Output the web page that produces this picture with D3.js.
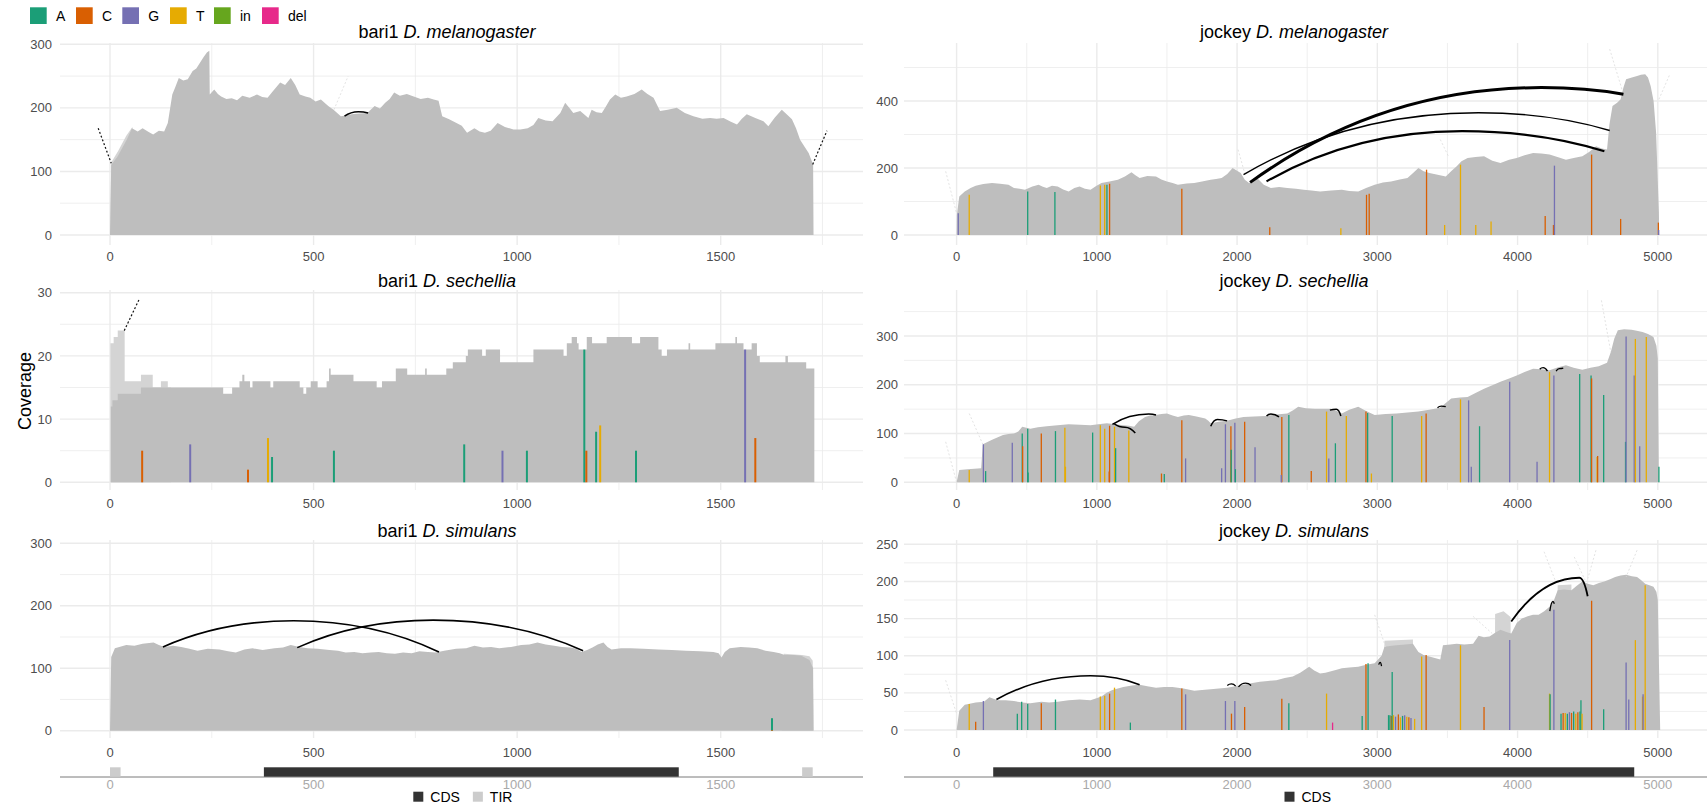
<!DOCTYPE html>
<html><head><meta charset="utf-8">
<script src="https://cdn.jsdelivr.net/npm/d3@7"></script>
<style>
body{margin:0;background:#fff;}
svg text{font-family:"Liberation Sans",Arial,Helvetica,sans-serif;}
</style></head><body>
<script>
// ---------- data ----------
const baseCodes = ["A", "C", "G", "T", "in", "del"];
const baseColors = ["#1b9e77", "#d95f02", "#7570b3", "#e6ab02", "#66a61e", "#e7298a"];

const bari1Ticks = [0, 500, 1000, 1500];
const jockeyTicks = [0, 1000, 2000, 3000, 4000, 5000];

// coverage profiles: [position, depth]
const bari1MelCoverage = [[0,0],[1,26],[3,110],[19,124],[41,150],[54,168],[68,163],[80,168],[95,162],[106,158],[120,164],[133,163],[142,176],[153,221],[160,232],[169,247],[180,243],[191,245],[203,258],[212,262],[221,271],[230,280],[238,287],[244,290],[245,221],[256,229],[265,222],[273,218],[286,214],[299,215],[312,212],[325,219],[343,216],[361,221],[374,217],[387,216],[400,226],[418,240],[430,236],[444,247],[455,236],[466,221],[480,218],[492,216],[505,210],[518,213],[536,203],[549,197],[567,187],[580,188],[593,190],[612,191],[632,192],[650,203],[663,199],[676,208],[687,214],[698,224],[712,219],[729,222],[746,218],[763,214],[781,216],[795,213],[807,211],[816,187],[833,182],[851,176],[864,172],[877,161],[895,168],[908,163],[921,161],[935,164],[952,176],[970,170],[991,166],[1008,166],[1026,168],[1040,173],[1052,184],[1070,180],[1087,179],[1106,192],[1118,208],[1128,200],[1138,192],[1155,195],[1175,184],[1183,197],[1195,193],[1208,192],[1218,202],[1228,213],[1241,221],[1255,216],[1269,218],[1288,222],[1306,229],[1320,222],[1335,216],[1351,195],[1370,197],[1392,200],[1412,192],[1433,187],[1455,183],[1474,184],[1490,183],[1507,184],[1525,178],[1540,174],[1552,183],[1564,190],[1585,184],[1605,179],[1617,171],[1633,185],[1650,197],[1662,190],[1675,182],[1685,168],[1695,150],[1706,139],[1716,129],[1727,111],[1728,0]];
const bari1MelLight = [[0,0],[3,114],[20,132],[40,156],[55,170],[60,0]];

const bari1SecCoverage = [[0,0],[2,12],[6,13],[19,14],[76,15],[278,14],[300,15],[318,16],[325,17],[330,16],[344,15],[350,16],[394,15],[401,16],[466,15],[475,14],[482,15],[493,16],[510,15],[532,16],[538,18],[542,17],[598,16],[655,15],[668,16],[702,18],[730,17],[774,18],[778,17],[826,18],[842,19],[874,20],[879,21],[914,20],[923,21],[958,19],[1040,21],[1114,20],[1122,22],[1134,23],[1147,22],[1151,21],[1171,23],[1184,22],[1220,23],[1282,22],[1302,23],[1347,21],[1355,20],[1368,21],[1421,22],[1425,21],[1487,22],[1536,23],[1540,22],[1556,21],[1576,22],[1589,20],[1596,19],[1659,20],[1665,19],[1710,18],[1730,0]];
const bari1SecLight = [[0,0],[1,22],[9,23],[19,24],[36,16],[76,17],[105,15],[125,16],[142,15],[150,0]];

const bari1SimCoverage = [[0,0],[3,118],[12,132],[40,137],[60,136],[80,139],[107,141],[120,137],[134,134],[155,136],[175,134],[195,131],[215,128],[240,131],[269,130],[290,127],[309,125],[330,130],[350,132],[375,129],[404,132],[425,133],[444,137],[465,134],[485,132],[510,131],[539,129],[560,128],[579,125],[600,126],[620,124],[640,125],[660,126],[680,124],[700,123],[720,125],[741,124],[760,127],[781,126],[800,125],[821,128],[850,131],[875,132],[895,136],[916,133],[936,134],[956,132],[985,134],[1010,137],[1030,138],[1050,141],[1070,138],[1091,136],[1110,134],[1131,133],[1145,131],[1158,126],[1172,129],[1185,133],[1198,138],[1212,141],[1222,134],[1232,130],[1255,132],[1279,132],[1310,131],[1347,130],[1380,129],[1414,128],[1450,127],[1482,126],[1495,124],[1502,117],[1510,126],[1522,132],[1549,134],[1570,133],[1590,132],[1610,128],[1630,126],[1645,124],[1657,121],[1680,121],[1698,120],[1718,113],[1727,100],[1728,0]];
const bari1SimLight = [[1650,0],[1655,123],[1700,121],[1718,119],[1726,112],[1728,0]];

const jockeyMelCoverage = [[0,0],[2,60],[19,115],[58,130],[100,140],[136,147],[190,152],[253,155],[310,153],[370,150],[409,140],[450,138],[487,135],[540,145],[585,150],[615,144],[643,140],[680,147],[721,145],[760,136],[799,130],[840,140],[877,145],[915,138],[955,135],[995,146],[1033,155],[1090,160],[1150,165],[1200,175],[1247,187],[1275,178],[1305,170],[1360,176],[1422,175],[1460,166],[1500,160],[1540,155],[1578,150],[1640,154],[1695,155],[1750,160],[1812,165],[1850,167],[1890,170],[1930,182],[1968,200],[2000,192],[2026,185],[2055,165],[2085,155],[2115,163],[2143,170],[2190,150],[2241,140],[2300,143],[2358,140],[2420,138],[2475,135],[2530,133],[2592,130],[2670,133],[2747,135],[2800,131],[2864,130],[2920,140],[2981,150],[3040,157],[3098,160],[3160,166],[3215,170],[3255,185],[3293,200],[3330,190],[3371,185],[3430,180],[3488,175],[3530,192],[3566,205],[3600,220],[3644,230],[3700,233],[3761,235],[3820,222],[3878,215],[3940,225],[3994,230],[4050,238],[4111,245],[4170,243],[4228,240],[4290,232],[4345,225],[4400,230],[4462,235],[4510,248],[4560,265],[4600,258],[4638,255],[4655,330],[4677,385],[4710,395],[4735,405],[4755,440],[4774,465],[4815,470],[4852,475],[4880,478],[4910,480],[4930,470],[4949,445],[4970,400],[4988,305],[5000,160],[5008,65],[5010,0]];

const jockeySecCoverage = [[0,0],[19,25],[78,27],[175,29],[187,78],[253,87],[290,92],[331,97],[370,99],[409,100],[440,104],[468,114],[526,110],[580,113],[643,115],[720,117],[799,119],[880,118],[955,117],[1010,119],[1072,121],[1130,119],[1189,117],[1230,116],[1266,114],[1300,125],[1344,134],[1380,137],[1422,138],[1460,140],[1500,141],[1540,137],[1578,134],[1620,137],[1656,138],[1710,135],[1773,131],[1795,126],[1812,121],[1870,124],[1929,126],[1990,131],[2046,134],[2120,135],[2202,136],[2280,139],[2358,141],[2400,148],[2436,155],[2490,152],[2553,151],[2610,151],[2670,151],[2710,146],[2747,141],[2800,149],[2864,155],[2920,146],[2981,138],[3060,140],[3137,141],[3215,143],[3293,145],[3370,149],[3449,153],[3490,163],[3527,172],[3590,174],[3644,175],[3700,183],[3761,192],[3820,199],[3878,206],[3940,213],[3994,219],[4050,226],[4111,233],[4170,232],[4228,230],[4290,236],[4345,240],[4400,235],[4462,231],[4520,235],[4579,238],[4638,245],[4665,267],[4690,295],[4715,312],[4760,314],[4813,313],[4850,311],[4891,308],[4930,304],[4969,298],[4990,280],[5000,254],[5008,0]];

const jockeySimCoverage = [[0,0],[19,26],[58,34],[136,37],[195,38],[234,44],[292,40],[350,40],[409,39],[470,37],[526,36],[604,38],[660,37],[721,38],[799,40],[877,41],[955,40],[1033,45],[1070,50],[1111,54],[1189,58],[1250,60],[1305,61],[1360,59],[1422,57],[1480,58],[1539,58],[1617,56],[1695,53],[1750,54],[1812,55],[1870,56],[1929,57],[1990,59],[2046,61],[2100,63],[2163,65],[2220,66],[2280,67],[2340,70],[2397,72],[2450,77],[2514,85],[2550,80],[2592,76],[2630,77],[2670,79],[2710,81],[2747,83],[2800,84],[2864,85],[2920,88],[2981,90],[3030,100],[3051,112],[3090,113],[3137,114],[3200,115],[3254,116],[3275,110],[3293,105],[3330,101],[3371,99],[3410,97],[3449,95],[3468,114],[3520,115],[3566,116],[3620,115],[3683,116],[3722,127],[3760,125],[3800,126],[3840,131],[3878,135],[3920,132],[3955,130],[3994,144],[4030,150],[4072,153],[4110,155],[4150,155],[4190,160],[4228,166],[4260,175],[4286,188],[4330,189],[4384,188],[4420,194],[4462,200],[4500,197],[4540,195],[4580,198],[4618,200],[4660,203],[4696,206],[4735,208],[4774,209],[4815,207],[4852,206],[4880,202],[4910,197],[4940,195],[4969,193],[4990,186],[5000,175],[5015,20],[5017,0]];
const jockeySimLight = [[3045,0],[3051,120],[3254,122],[3258,0],[3835,0],[3840,156],[3900,160],[3950,152],[3955,0],[4280,0],[4286,195],[4384,196],[4388,0]];

// mismatches: [position, base, count]
const bari1SecMismatch = [[79,"C",5],[197,"G",6],[339,"C",2],[388,"T",7],[398,"A",4],[550,"A",5],[870,"A",6],[964,"G",5],[1024,"A",5],[1165,"A",21],[1170,"C",5],[1194,"A",8],[1204,"T",9],[1292,"A",5],[1560,"G",21],[1585,"C",7]];
const bari1SimMismatch = [[1626,"A",20],[1626,"C",1]];
const jockeyMelMismatch = [[12,"G",65],[90,"T",120],[507,"A",130],[701,"A",128],[1025,"T",148],[1056,"T",150],[1072,"A",150],[1091,"C",153],[1606,"C",138],[2233,"C",23],[2740,"T",20],[2923,"C",120],[2942,"C",123],[3351,"C",195],[3480,"T",30],[3593,"T",210],[3702,"T",30],[3811,"T",40],[4197,"C",57],[4256,"C",30],[4263,"G",207],[4528,"C",240],[4735,"C",48],[5004,"C",37],[5006,"G",15]];
const jockeySecMismatch = [[90,"T",25],[191,"G",78],[207,"A",23],[397,"G",81],[468,"A",100],[471,"C",74],[507,"A",110],[510,"A",20],[604,"C",100],[705,"A",105],[772,"T",112],[776,"T",32],[970,"A",102],[1025,"T",117],[1056,"T",110],[1088,"C",22],[1091,"C",116],[1126,"T",114],[1134,"A",70],[1228,"T",106],[1461,"C",18],[1481,"A",17],[1606,"C",127],[1633,"G",49],[1890,"G",29],[1917,"G",119],[1956,"C",115],[1958,"A",67],[1984,"G",122],[1988,"A",27],[2054,"C",124],[2128,"G",72],[2319,"C",134],[2315,"G",15],[2369,"A",138],[2529,"C",23],[2638,"T",145],[2654,"G",49],[2701,"A",80],[2779,"T",136],[2919,"C",145],[2931,"A",142],[2958,"T",18],[3106,"A",136],[3316,"T",136],[3348,"C",141],[3593,"T",170],[3651,"G",168],[3670,"G",32],[3729,"A",115],[3944,"G",206],[4139,"G",42],[4228,"T",226],[4259,"G",219],[4443,"A",222],[4524,"A",219],[4528,"C",213],[4567,"T",52],[4571,"C",54],[4614,"A",179],[4770,"A",83],[4774,"G",299],[4832,"G",219],[4840,"T",294],[4871,"G",74],[4918,"T",298],[5008,"A",32]];
const jockeySimMismatch = [[90,"T",35],[136,"C",11],[191,"G",39],[433,"A",22],[464,"A",38],[507,"A",35],[604,"C",36],[705,"A",41],[1025,"T",45],[1056,"T",46],[1091,"C",49],[1126,"T",57],[1239,"A",10],[1606,"C",56],[1633,"G",48],[1917,"G",39],[1960,"C",22],[1984,"G",39],[2054,"C",31],[2319,"C",42],[2369,"A",36],[2638,"T",49],[2681,"del",10],[2892,"A",19],[2919,"C",89],[2934,"A",90],[3080,"A",20],[3090,"A",20],[3100,"C",19],[3106,"A",78],[3115,"T",20],[3130,"G",18],[3150,"C",21],[3165,"T",17],[3180,"A",19],[3195,"G",20],[3210,"T",18],[3225,"C",17],[3240,"G",16],[3266,"T",15],[3316,"T",99],[3348,"C",101],[3593,"T",114],[3761,"C",31],[3944,"G",121],[4228,"T",49],[4232,"A",48],[4259,"G",162],[4310,"A",22],[4325,"C",23],[4340,"T",23],[4355,"A",22],[4370,"G",24],[4385,"C",23],[4400,"A",25],[4415,"T",22],[4430,"C",24],[4445,"A",25],[4452,"A",40],[4460,"T",22],[4528,"C",174],[4614,"A",28],[4774,"G",91],[4793,"G",41],[4840,"T",121],[4891,"T",45],[4895,"G",48],[4910,"T",195]];

// split-read junctions: [start, startDepth, end, endDepth, apexPos, apexDepth, weight]
const bari1MelJunctions = [[576,187,634,192,610,194,1.5]];
const bari1SimJunctions = [[130,134,808,126,451,176,1.6],[460,133,1162,128,794,177,1.6]];
const jockeyMelJunctions = [[2093,157,4755,420,4170,440,3.0],[2046,180,4657,312,3721,365,1.4],[2210,160,4619,250,3604,310,2.2]];
const jockeySecJunctions = [[1111,119,1422,138,1370,140,1.5],[1125,120,1274,101,1200,113,1.5],[1812,115,1929,126,1859,129,1.5],[2210,136,2299,134,2241,140,1.5],[2662,148,2740,136,2708,150,1.5],[3429,153,3488,155,3457,156,1.3],[4158,232,4213,228,4182,235,1.3],[4275,228,4326,234,4298,233,1.3]];
const jockeySimJunctions = [[284,41,1305,61,955,73,1.6],[1930,60,1990,59,1960,62,1.3],[2010,58,2100,60,2060,63,1.3],[3010,88,3030,86,3020,91,1.3],[3955,146,4500,180,4440,205,1.8],[4230,160,4262,170,4252,173,1.3]];

// reads leaving the element: [pos1, depth1, pos2, depth2]
const bari1MelFlanks = [[-29,168,3,113],[1726,111,1761,164]];
const bari1SecFlanks = [[35,24,72,29]];
const bari1MelFaint = [[550,197,585,250]];
const jockeyMelFaint = [[-78,190,0,65],[4657,555,4755,420],[5008,405,5086,480],[2007,255,2054,185],[3449,285,3507,235]];
const jockeySecFaint = [[-78,83,0,0],[90,141,187,78],[4598,373,4665,267]];
const jockeySimFaint = [[-78,67,0,22],[4189,240,4267,202],[4404,233,4481,202],[4559,242,4501,204],[4852,242,4774,206],[3683,153,3819,130],[2981,155,3059,112]];

// element annotation: [feature, start, end]
const bari1Features = [["TIR",0,26],["CDS",378,1397],["TIR",1700,1726]];
const jockeyFeatures = [["CDS",261,4832]];

// ---------- layout ----------
const W = 1707, H = 805;
const svg = d3.select("body").append("svg").attr("width", W).attr("height", H);
const colorOf = d3.scaleOrdinal().domain(baseCodes).range(baseColors);
const gridCol = "#ebebeb", axisTextCol = "#4d4d4d";
const tickFont = 13;

const columns = {
  bari1: {x0: 60, x1: 863, dom: [0,1500], rng: [110, 720.7], ticks: bari1Ticks, minorStep: 250, minorMax: 1750, titleX: 447, yLabX: 52, bar: 2},
  jockey: {x0: 904, x1: 1707, dom: [0,5000], rng: [956.6, 1657.8], ticks: jockeyTicks, minorStep: 500, minorMax: 5000, titleX: 1294, yLabX: 898, bar: 1.3}
};
const rows = [
  {top: 43, bottom: 245, xLabY: 256.7, titleY: 37.7},
  {top: 290, bottom: 490, xLabY: 503, titleY: 287},
  {top: 540, bottom: 738, xLabY: 752, titleY: 537}
];

const panels = [
  {col:"bari1", row:0, te:"bari1", sp:"D. melanogaster", yDom:[0,300], yRng:[235,44.3], yTicks:[0,100,200,300], gStep:50, gMax:300,
   cov:bari1MelCoverage, light:bari1MelLight, mm:[], arcs:bari1MelJunctions, flanks:bari1MelFlanks, faint:bari1MelFaint},
  {col:"bari1", row:1, te:"bari1", sp:"D. sechellia", yDom:[0,30], yRng:[482.3,292.7], yTicks:[0,10,20,30], gStep:5, gMax:30,
   cov:bari1SecCoverage, light:bari1SecLight, mm:bari1SecMismatch, arcs:[], flanks:bari1SecFlanks, faint:[], step:true},
  {col:"bari1", row:2, te:"bari1", sp:"D. simulans", yDom:[0,300], yRng:[730.7,543.3], yTicks:[0,100,200,300], gStep:50, gMax:300,
   cov:bari1SimCoverage, light:bari1SimLight, mm:bari1SimMismatch, arcs:bari1SimJunctions, flanks:[], faint:[]},
  {col:"jockey", row:0, te:"jockey", sp:"D. melanogaster", yDom:[0,400], yRng:[235,101], yTicks:[0,200,400], gStep:100, gMax:500,
   cov:jockeyMelCoverage, light:null, mm:jockeyMelMismatch, arcs:jockeyMelJunctions, flanks:[], faint:jockeyMelFaint},
  {col:"jockey", row:1, te:"jockey", sp:"D. sechellia", yDom:[0,300], yRng:[482.3,336], yTicks:[0,100,200,300], gStep:50, gMax:350,
   cov:jockeySecCoverage, light:null, mm:jockeySecMismatch, arcs:jockeySecJunctions, flanks:[], faint:jockeySecFaint},
  {col:"jockey", row:2, te:"jockey", sp:"D. simulans", yDom:[0,250], yRng:[730,544.3], yTicks:[0,50,100,150,200,250], gStep:25, gMax:250,
   cov:jockeySimCoverage, light:jockeySimLight, mm:jockeySimMismatch, arcs:jockeySimJunctions, flanks:[], faint:jockeySimFaint}
];

panels.forEach((p, i) => {
  const c = columns[p.col], r = rows[p.row];
  const x = d3.scaleLinear().domain(c.dom).range(c.rng);
  const y = d3.scaleLinear().domain(p.yDom).range(p.yRng);
  const g = svg.append("g");
  const clipId = "clip" + i;
  svg.append("defs").append("clipPath").attr("id", clipId)
    .append("rect").attr("x", c.x0).attr("y", r.top).attr("width", c.x1 - c.x0).attr("height", r.bottom - r.top);

  // grid
  const vMinor = d3.range(c.minorStep, c.minorMax + 1, c.minorStep).filter(v => !c.ticks.includes(v));
  g.selectAll(null).data(vMinor).join("line")
    .attr("x1", d => x(d)).attr("x2", d => x(d)).attr("y1", r.top).attr("y2", r.bottom)
    .attr("stroke", gridCol).attr("stroke-width", 0.8);
  g.selectAll(null).data(c.ticks).join("line")
    .attr("x1", d => x(d)).attr("x2", d => x(d)).attr("y1", r.top).attr("y2", r.bottom)
    .attr("stroke", gridCol).attr("stroke-width", 1.4);
  const hLines = d3.range(0, p.gMax + 0.001, p.gStep);
  g.selectAll(null).data(hLines).join("line")
    .attr("x1", c.x0).attr("x2", c.x1).attr("y1", d => y(d)).attr("y2", d => y(d))
    .attr("stroke", gridCol).attr("stroke-width", d => p.yTicks.includes(d) ? 1.4 : 0.8);

  // axis labels
  g.selectAll(null).data(p.yTicks).join("text")
    .attr("x", c.yLabX).attr("y", d => y(d) + 4.6).attr("text-anchor", "end")
    .attr("font-size", tickFont).attr("fill", axisTextCol).text(d => d);
  g.selectAll(null).data(c.ticks).join("text")
    .attr("x", d => x(d)).attr("y", r.xLabY + 4.6).attr("text-anchor", "middle")
    .attr("font-size", tickFont).attr("fill", axisTextCol).text(d => d);

  // title
  const t = g.append("text").attr("x", c.titleX).attr("y", r.titleY).attr("text-anchor", "middle")
    .attr("font-size", 18).attr("fill", "#000");
  t.append("tspan").text(p.te + " ");
  t.append("tspan").attr("font-style", "italic").text(p.sp);

  const body = g.append("g").attr("clip-path", `url(#${clipId})`);
  const area = d3.area().x(d => x(d[0])).y0(y(0)).y1(d => y(d[1]))
    .curve(p.step ? d3.curveStepAfter : d3.curveLinear);
  if (p.light) body.append("path").datum(p.light).attr("d", area).attr("fill", "#d4d4d4");
  body.append("path").datum(p.cov).attr("d", area).attr("fill", "#bebebe");

  // mismatches
  body.selectAll(null).data(p.mm).join("line")
    .attr("x1", d => x(d[0])).attr("x2", d => x(d[0]))
    .attr("y1", y(0)).attr("y2", d => y(d[2]))
    .attr("stroke", d => colorOf(d[1])).attr("stroke-width", c.bar);

  // faint flanking reads
  body.selectAll(null).data(p.faint).join("line")
    .attr("x1", d => x(d[0])).attr("y1", d => y(d[1])).attr("x2", d => x(d[2])).attr("y2", d => y(d[3]))
    .attr("stroke", "#dcdcdc").attr("stroke-width", 0.8).attr("stroke-dasharray", "2,2");
  body.selectAll(null).data(p.flanks).join("line")
    .attr("x1", d => x(d[0])).attr("y1", d => y(d[1])).attr("x2", d => x(d[2])).attr("y2", d => y(d[3]))
    .attr("stroke", "#111").attr("stroke-width", 1.2).attr("stroke-dasharray", "2,2");

  // junction arcs: two quadratic pieces meeting at the apex with a level tangent
  const arcPath = d => {
    const sx = x(d[0]), sy = y(d[1]), ex = x(d[2]), ey = y(d[3]), px = x(d[4]), py = y(d[5]);
    const c1x = sx + 0.45 * (px - sx), c2x = ex - 0.45 * (ex - px);
    return `M${sx},${sy}Q${c1x},${py} ${px},${py}Q${c2x},${py} ${ex},${ey}`;
  };
  body.selectAll(null).data(p.arcs).join("path")
    .attr("d", arcPath).attr("fill", "none").attr("stroke", "#000").attr("stroke-width", d => d[6]);
});

// y-axis title
svg.append("text").attr("transform", "translate(31,391) rotate(-90)").attr("text-anchor", "middle")
  .attr("font-size", 18).attr("fill", "#000").text("Coverage");

// base legend
const leg = svg.append("g");
const legX = [30, 76, 122.3, 170, 214, 262];
baseCodes.forEach((b, i) => {
  leg.append("rect").attr("x", legX[i]).attr("y", 7.3).attr("width", 16.7).attr("height", 16.7).attr("fill", baseColors[i]);
  leg.append("text").attr("x", legX[i] + 26).attr("y", 20.7).attr("font-size", 14).attr("fill", "#000").text(b);
});

// element annotation tracks
const featColor = {CDS: "#333333", TIR: "#cccccc"};
function drawTrack(colKey, feats, legendItems, legendX) {
  const c = columns[colKey];
  const x = d3.scaleLinear().domain(c.dom).range(c.rng);
  const g = svg.append("g");
  g.append("line").attr("x1", c.x0).attr("x2", c.x1).attr("y1", 777).attr("y2", 777)
    .attr("stroke", "#7a7a7a").attr("stroke-width", 1);
  g.selectAll(null).data(feats).join("rect")
    .attr("x", d => x(d[1])).attr("width", d => x(d[2]) - x(d[1]))
    .attr("y", 767.3).attr("height", 9.4).attr("fill", d => featColor[d[0]]);
  g.selectAll(null).data(c.ticks).join("text")
    .attr("x", d => x(d)).attr("y", 789).attr("text-anchor", "middle")
    .attr("font-size", tickFont).attr("fill", "#a9a9a9").text(d => d);
  let lx = legendX;
  legendItems.forEach(k => {
    g.append("rect").attr("x", lx).attr("y", 791.7).attr("width", 10).attr("height", 10).attr("fill", featColor[k]);
    const tx = g.append("text").attr("x", lx + 17).attr("y", 801.7).attr("font-size", 14).attr("fill", "#000").text(k);
    lx += 17 + tx.node().getComputedTextLength() + 13;
  });
}
drawTrack("bari1", bari1Features, ["CDS", "TIR"], 413.3);
drawTrack("jockey", jockeyFeatures, ["CDS"], 1284.5);
</script></body></html>
